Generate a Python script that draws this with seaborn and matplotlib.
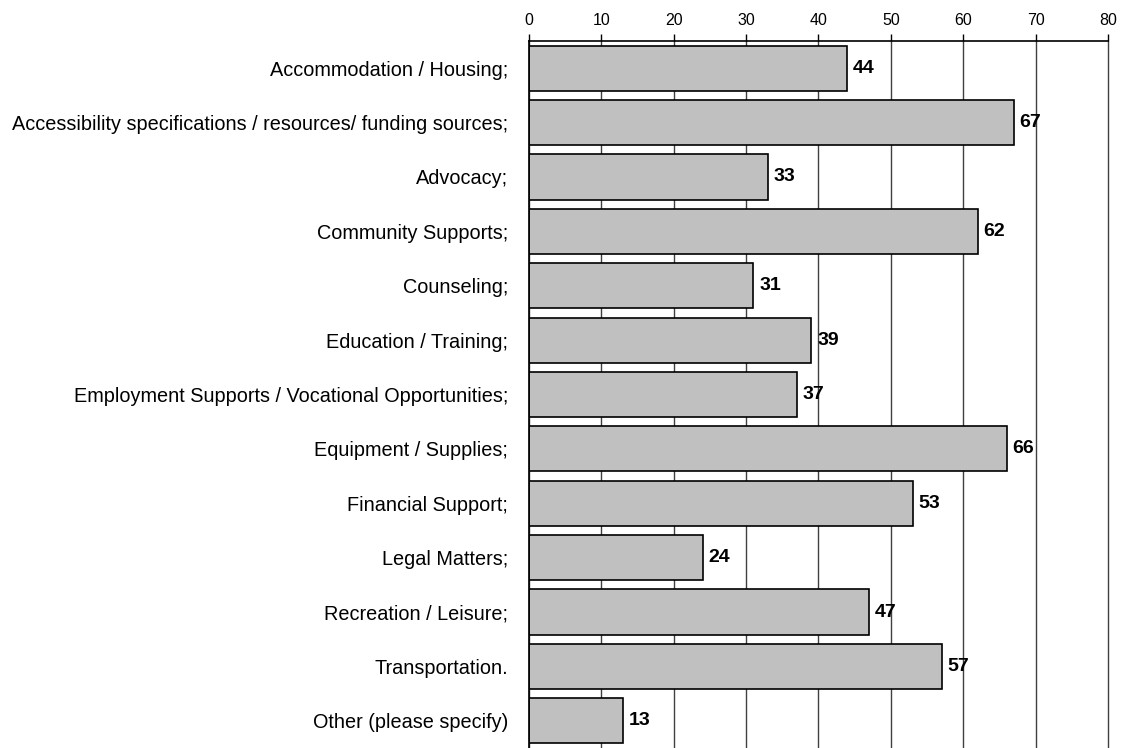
import matplotlib
matplotlib.use("Agg")
import matplotlib.pyplot as plt
import seaborn as sns
import numpy as np
import pandas as pd

categories = [
    "Accommodation / Housing;",
    "Accessibility specifications / resources/ funding sources;",
    "Advocacy;",
    "Community Supports;",
    "Counseling;",
    "Education / Training;",
    "Employment Supports / Vocational Opportunities;",
    "Equipment / Supplies;",
    "Financial Support;",
    "Legal Matters;",
    "Recreation / Leisure;",
    "Transportation.",
    "Other (please specify)",
]
counts = [44, 67, 33, 62, 31, 39, 37, 66, 53, 24, 47, 57, 13]
x_ticks = [0, 10, 20, 30, 40, 50, 60, 70, 80]

sns.set_style("white")
plt.rcParams["font.family"] = ["Liberation Sans", "DejaVu Sans"]
plt.rcParams["text.color"] = "black"
plt.rcParams["xtick.color"] = "black"
plt.rcParams["ytick.color"] = "black"
plt.rcParams["xtick.labelcolor"] = "black"
plt.rcParams["ytick.labelcolor"] = "black"

df = pd.DataFrame({"category": categories, "count": counts})

fig = plt.figure(figsize=(11.24, 7.48), dpi=100)
ax = fig.add_axes([0.4706, 0.0, 0.5152, 0.9452])

sns.barplot(data=df, y="category", x="count", orient="h", color="#c0c0c0",
            edgecolor="black", linewidth=1.2, width=0.83, saturation=1, ax=ax)

n = len(categories)
ax.set_xlim(0, 80)
ax.set_ylim(n - 0.5, -0.5)
ax.set_xticks(x_ticks)
ax.xaxis.tick_top()
ax.xaxis.set_label_position("top")
ax.tick_params(axis="x", which="major", direction="out", length=5, width=1,
               color="black", labelsize=11.5, pad=4)
ax.set_xlabel("")
ax.set_ylabel("")

# category labels at bar centres, tick marks at boundaries between bars
ax.set_yticks(range(n))
ax.set_yticklabels(categories, fontsize=14.3)
ax.tick_params(axis="y", which="major", length=0, pad=15)
ax.set_yticks(np.arange(-0.5, n, 1.0), minor=True)
ax.tick_params(axis="y", which="minor", direction="out", length=5, width=1, color="black")

ax.grid(axis="x", color="#404040", linewidth=1.0)
ax.set_axisbelow(True)
for gl in ax.get_xgridlines():
    gl.set_clip_on(False)

for s in ["right", "bottom"]:
    ax.spines[s].set_visible(False)
for s in ["left", "top"]:
    ax.spines[s].set_visible(True)
    ax.spines[s].set_color("black")
    ax.spines[s].set_linewidth(1.2)

for i, v in enumerate(counts):
    ax.text(v + 0.8, i, str(v), va="center", ha="left", fontsize=14,
            fontweight="bold", color="black")

fig.savefig("out.png", dpi=100)
